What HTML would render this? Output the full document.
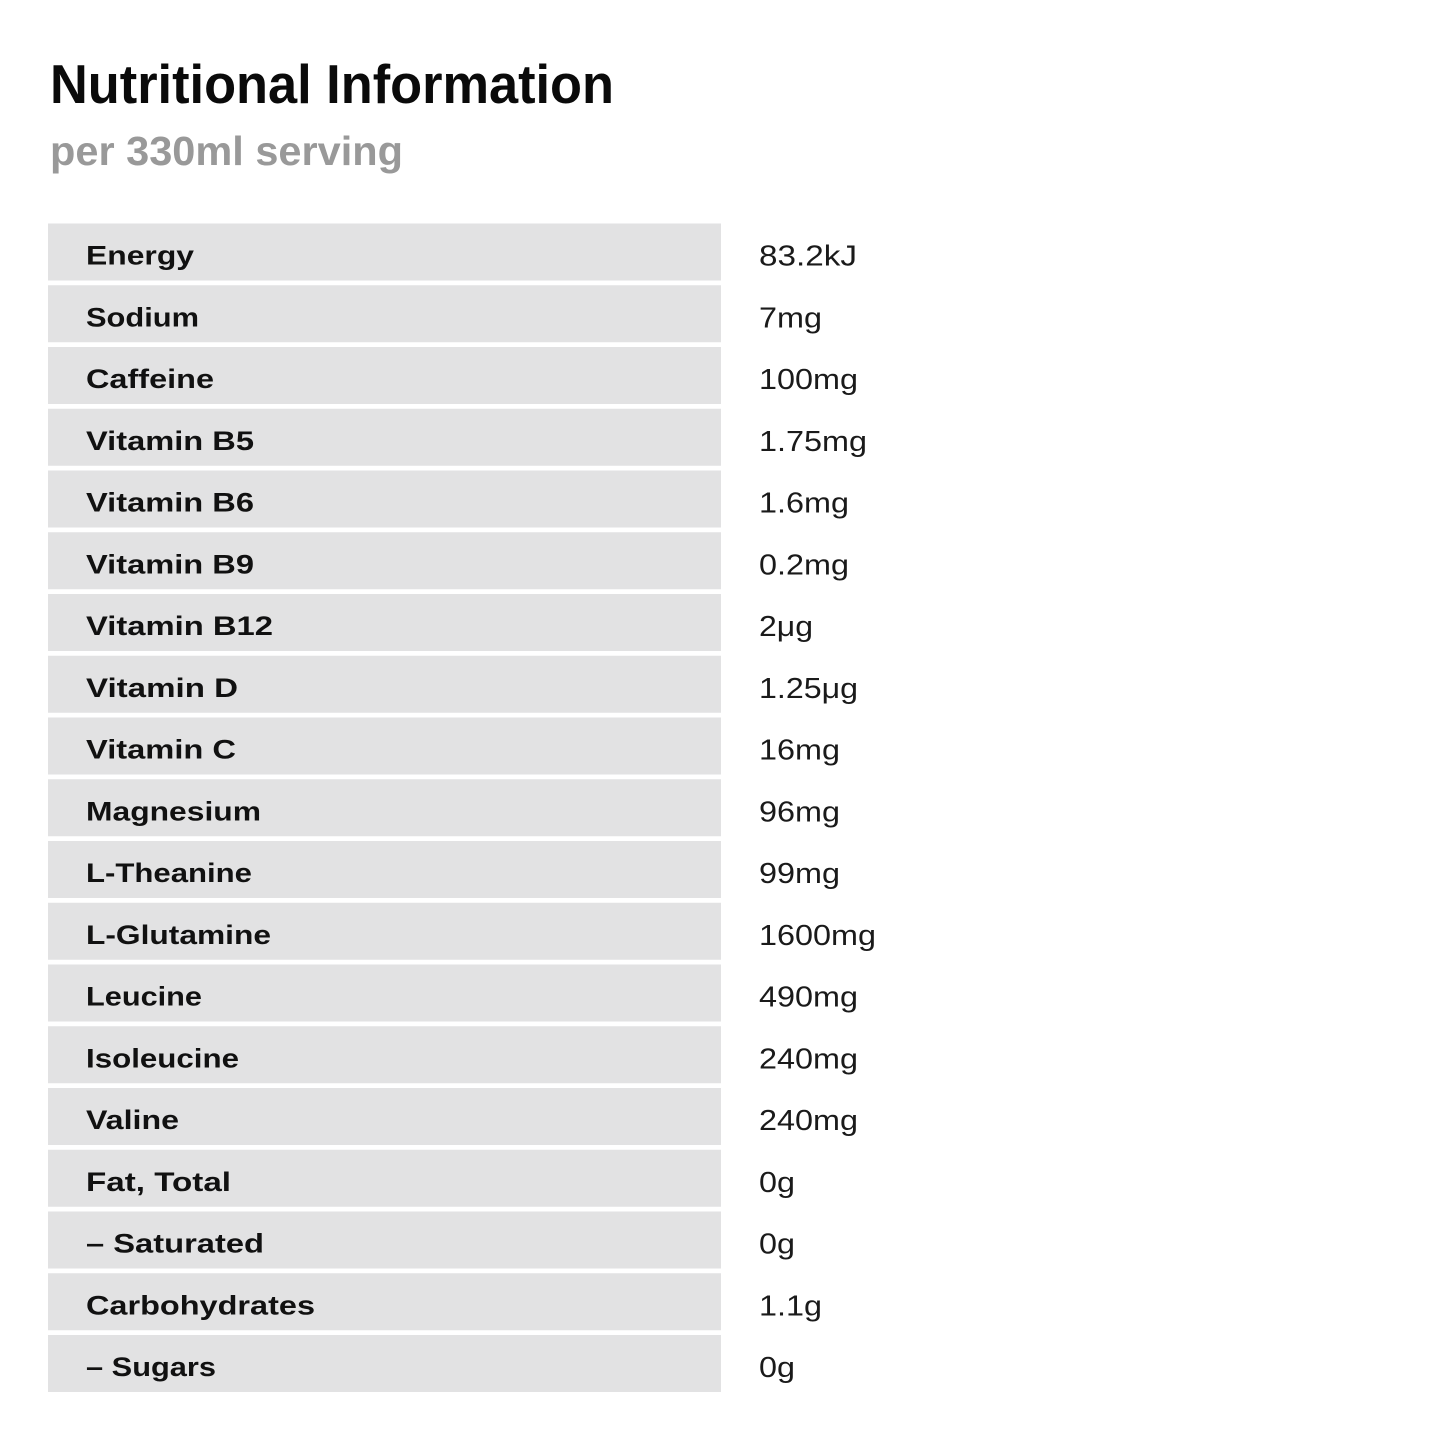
<!DOCTYPE html>
<html><head><meta charset="utf-8"><style>html,body{margin:0;padding:0;background:#fff}</style></head>
<body>
<svg width="1445" height="1445" viewBox="0 0 1445 1445" xmlns="http://www.w3.org/2000/svg" font-family="Liberation Sans, sans-serif">
<rect width="1445" height="1445" fill="#fff"/>
<text x="50" y="103" font-size="55" font-weight="bold" fill="#0a0a0a" textLength="564" lengthAdjust="spacingAndGlyphs">Nutritional Information</text>
<text x="50" y="165" font-size="41" font-weight="bold" fill="#999" textLength="353" lengthAdjust="spacingAndGlyphs">per 330ml serving</text>
<g fill="#e2e2e3">
<rect x="48" y="223.5" width="673" height="57"/>
<rect x="48" y="285.25" width="673" height="57"/>
<rect x="48" y="347" width="673" height="57"/>
<rect x="48" y="408.75" width="673" height="57"/>
<rect x="48" y="470.5" width="673" height="57"/>
<rect x="48" y="532.25" width="673" height="57"/>
<rect x="48" y="594" width="673" height="57"/>
<rect x="48" y="655.75" width="673" height="57"/>
<rect x="48" y="717.5" width="673" height="57"/>
<rect x="48" y="779.25" width="673" height="57"/>
<rect x="48" y="841" width="673" height="57"/>
<rect x="48" y="902.75" width="673" height="57"/>
<rect x="48" y="964.5" width="673" height="57"/>
<rect x="48" y="1026.25" width="673" height="57"/>
<rect x="48" y="1088" width="673" height="57"/>
<rect x="48" y="1149.75" width="673" height="57"/>
<rect x="48" y="1211.5" width="673" height="57"/>
<rect x="48" y="1273.25" width="673" height="57"/>
<rect x="48" y="1335" width="673" height="57"/>
</g>
<g font-size="27" font-weight="bold" fill="#111" lengthAdjust="spacingAndGlyphs">
<text x="86" y="264.5" textLength="108" lengthAdjust="spacingAndGlyphs">Energy</text>
<text x="86" y="326.25" textLength="113" lengthAdjust="spacingAndGlyphs">Sodium</text>
<text x="86" y="388" textLength="128" lengthAdjust="spacingAndGlyphs">Caffeine</text>
<text x="86" y="449.75" textLength="168" lengthAdjust="spacingAndGlyphs">Vitamin B5</text>
<text x="86" y="511.5" textLength="168" lengthAdjust="spacingAndGlyphs">Vitamin B6</text>
<text x="86" y="573.25" textLength="168" lengthAdjust="spacingAndGlyphs">Vitamin B9</text>
<text x="86" y="635" textLength="187" lengthAdjust="spacingAndGlyphs">Vitamin B12</text>
<text x="86" y="696.75" textLength="152" lengthAdjust="spacingAndGlyphs">Vitamin D</text>
<text x="86" y="758.5" textLength="150" lengthAdjust="spacingAndGlyphs">Vitamin C</text>
<text x="86" y="820.25" textLength="175" lengthAdjust="spacingAndGlyphs">Magnesium</text>
<text x="86" y="882" textLength="166" lengthAdjust="spacingAndGlyphs">L-Theanine</text>
<text x="86" y="943.75" textLength="185" lengthAdjust="spacingAndGlyphs">L-Glutamine</text>
<text x="86" y="1005.5" textLength="116" lengthAdjust="spacingAndGlyphs">Leucine</text>
<text x="86" y="1067.25" textLength="153" lengthAdjust="spacingAndGlyphs">Isoleucine</text>
<text x="86" y="1129" textLength="93" lengthAdjust="spacingAndGlyphs">Valine</text>
<text x="86" y="1190.75" textLength="145" lengthAdjust="spacingAndGlyphs">Fat, Total</text>
<text x="86" y="1252.5" textLength="178" lengthAdjust="spacingAndGlyphs">– Saturated</text>
<text x="86" y="1314.25" textLength="229" lengthAdjust="spacingAndGlyphs">Carbohydrates</text>
<text x="86" y="1376" textLength="130" lengthAdjust="spacingAndGlyphs">– Sugars</text>
</g>
<g font-size="29" fill="#1a1a1a">
<text x="759" y="265.5" textLength="98" lengthAdjust="spacingAndGlyphs">83.2kJ</text>
<text x="759" y="327.25" textLength="63" lengthAdjust="spacingAndGlyphs">7mg</text>
<text x="759" y="389" textLength="99" lengthAdjust="spacingAndGlyphs">100mg</text>
<text x="759" y="450.75" textLength="108" lengthAdjust="spacingAndGlyphs">1.75mg</text>
<text x="759" y="512.5" textLength="90" lengthAdjust="spacingAndGlyphs">1.6mg</text>
<text x="759" y="574.25" textLength="90" lengthAdjust="spacingAndGlyphs">0.2mg</text>
<text x="759" y="636" textLength="54" lengthAdjust="spacingAndGlyphs">2μg</text>
<text x="759" y="697.75" textLength="99" lengthAdjust="spacingAndGlyphs">1.25μg</text>
<text x="759" y="759.5" textLength="81" lengthAdjust="spacingAndGlyphs">16mg</text>
<text x="759" y="821.25" textLength="81" lengthAdjust="spacingAndGlyphs">96mg</text>
<text x="759" y="883" textLength="81" lengthAdjust="spacingAndGlyphs">99mg</text>
<text x="759" y="944.75" textLength="117" lengthAdjust="spacingAndGlyphs">1600mg</text>
<text x="759" y="1006.5" textLength="99" lengthAdjust="spacingAndGlyphs">490mg</text>
<text x="759" y="1068.25" textLength="99" lengthAdjust="spacingAndGlyphs">240mg</text>
<text x="759" y="1130" textLength="99" lengthAdjust="spacingAndGlyphs">240mg</text>
<text x="759" y="1191.75" textLength="36" lengthAdjust="spacingAndGlyphs">0g</text>
<text x="759" y="1253.5" textLength="36" lengthAdjust="spacingAndGlyphs">0g</text>
<text x="759" y="1315.25" textLength="63" lengthAdjust="spacingAndGlyphs">1.1g</text>
<text x="759" y="1377" textLength="36" lengthAdjust="spacingAndGlyphs">0g</text>
</g>
</svg>
</body></html>
